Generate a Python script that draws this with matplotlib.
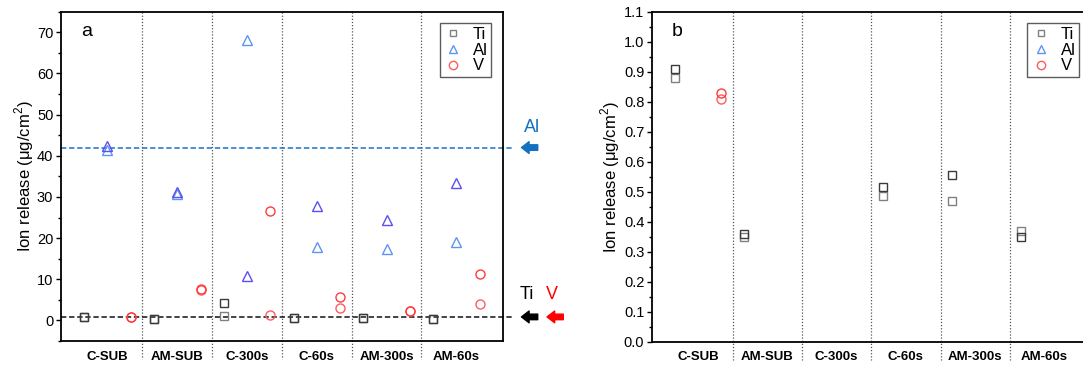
import matplotlib
matplotlib.use("Agg")
import matplotlib.pyplot as plt
from matplotlib.ticker import MultipleLocator

plt.rcParams['font.family'] = ['Liberation Sans', 'DejaVu Sans']
plt.rcParams['mathtext.fontset'] = 'custom'
plt.rcParams['mathtext.rm'] = 'Liberation Sans'

groups = ['C-SUB', 'AM-SUB', 'C-300s', 'C-60s', 'AM-300s', 'AM-60s']

# two replicate measurements per element and surface (ug/cm2)
ti_rep1 = [0.91, 0.36, 4.2, 0.515, 0.555, 0.35]
ti_rep2 = [0.88, 0.35, 1.15, 0.485, 0.47, 0.37]
al_rep1 = [42.4, 31.3, 10.9, 27.9, 24.3, 33.5]
al_rep2 = [41.4, 30.6, 68.1, 17.9, 17.3, 19.0]
v_rep1 = [0.83, 7.7, 26.6, 5.8, 2.35, 11.2]
v_rep2 = [0.81, 7.5, 1.25, 3.0, 2.25, 3.95]

# reference release levels marked in panel a
al_ref = 42.0
ti_ref = 0.85

elements = ['Ti', 'Al', 'V']
reps = {
    'Ti': (ti_rep1, ti_rep2),
    'Al': (al_rep1, al_rep2),
    'V': (v_rep1, v_rep2),
}
markers = {'Ti': 's', 'Al': '^', 'V': 'o'}
sizes = {'Ti': 5.5, 'Al': 6.5, 'V': 6.5}
colors = {
    'Ti': ('#3a3a3a', '#808080'),
    'Al': ('#5b4ff0', '#5f95f2'),
    'V': ('#ff3b3b', '#ff5c5c'),
}

fig = plt.figure(figsize=(10.83, 3.65), dpi=100)
ax_a = fig.add_axes([0.0563, 0.0658, 0.408, 0.902])
ax_b = fig.add_axes([0.602, 0.0638, 0.405, 0.904])


def draw_panel(ax, letter):
    handles = []
    for k, el in enumerate(elements):
        xs = [3 * i + k + 1 for i in range(len(groups))]
        r1, r2 = reps[el]
        c1, c2 = colors[el]
        ax.plot(xs, r2, linestyle='none', marker=markers[el], ms=sizes[el],
                mfc='none', mec=c2, mew=1.0, zorder=3)
        ax.plot(xs, r1, linestyle='none', marker=markers[el], ms=sizes[el],
                mfc='none', mec=c1, mew=1.0, zorder=3)
        h, = ax.plot([], [], linestyle='none', marker=markers[el], ms=sizes[el] - 0.5,
                     mfc='none', mec=c2, mew=1.0, label=el)
        handles.append(h)

    # dotted separators between surface groups
    for i in range(1, len(groups)):
        ax.plot([3 * i + 0.5] * 2, [1, -0.055], transform=ax.get_xaxis_transform(),
                color='#555555', ls=(0, (1, 1.5)), lw=0.9, clip_on=False, zorder=1)

    ax.set_xlim(0, 19)
    ax.set_xticks([3 * i + 2 for i in range(len(groups))])
    ax.set_xticklabels(groups, fontweight='bold', fontsize=9.5)
    ax.tick_params(axis='x', length=0, pad=7)
    ax.tick_params(axis='y', which='major', direction='out', length=3.5, width=1,
                   labelsize=10.5, pad=2)
    ax.tick_params(axis='y', which='minor', direction='out', length=2, width=1)
    for s in ax.spines.values():
        s.set_linewidth(1.3)
    ax.set_ylabel('Ion release (\u03bcg/cm$^2$)', fontsize=12, labelpad=1)
    ax.text(0.045, 0.965, letter, transform=ax.transAxes, fontsize=14,
            va='top', ha='left')
    leg = ax.legend(handles=handles, loc='upper right', fontsize=12,
                    frameon=True, fancybox=False, handletextpad=0.6,
                    handlelength=1.2, borderpad=0.2, labelspacing=0.05,
                    borderaxespad=0.7, markerfirst=True)
    leg.get_frame().set_edgecolor('#333333')
    leg.get_frame().set_linewidth(1.0)


draw_panel(ax_a, 'a')
ax_a.set_ylim(-5, 75)
ax_a.yaxis.set_major_locator(MultipleLocator(10))
ax_a.yaxis.set_minor_locator(MultipleLocator(5))
ax_a.set_yticks(range(0, 80, 10))

# reference levels with arrows outside the frame
ax_a.plot([0, 19.5], [al_ref, al_ref], color='#1a73c8', ls=(0, (3.5, 1.8)),
          lw=1.1, clip_on=False, zorder=2)
ax_a.plot([0, 19.5], [ti_ref, ti_ref], color='#111111', ls=(0, (3.5, 1.8)),
          lw=1.1, clip_on=False, zorder=2)
arrow = 'simple,head_length=0.55,head_width=0.85,tail_width=0.4'
for x0, x1, y, c in [(20.5, 19.8, al_ref, '#1470c0'),
                     (20.5, 19.8, ti_ref, '#000000'),
                     (21.6, 20.9, ti_ref, '#ff0000')]:
    ax_a.annotate('', xy=(x1, y), xytext=(x0, y), annotation_clip=False,
                  arrowprops=dict(arrowstyle=arrow, color=c, shrinkA=0, shrinkB=0))
ax_a.text(20.25, 46.8, 'Al', color='#1470c0', fontsize=13, ha='center',
          va='center', clip_on=False)
ax_a.text(20.05, 6.2, 'Ti', color='#000000', fontsize=13, ha='center',
          va='center', clip_on=False)
ax_a.text(21.1, 6.2, 'V', color='#ff0000', fontsize=13, ha='center',
          va='center', clip_on=False)

draw_panel(ax_b, 'b')
ax_b.set_ylim(0, 1.1)
ax_b.yaxis.set_major_locator(MultipleLocator(0.1))
ax_b.yaxis.set_minor_locator(MultipleLocator(0.05))
ax_b.yaxis.set_major_formatter(matplotlib.ticker.FormatStrFormatter('%.1f'))

fig.savefig('out.png', dpi=100)
